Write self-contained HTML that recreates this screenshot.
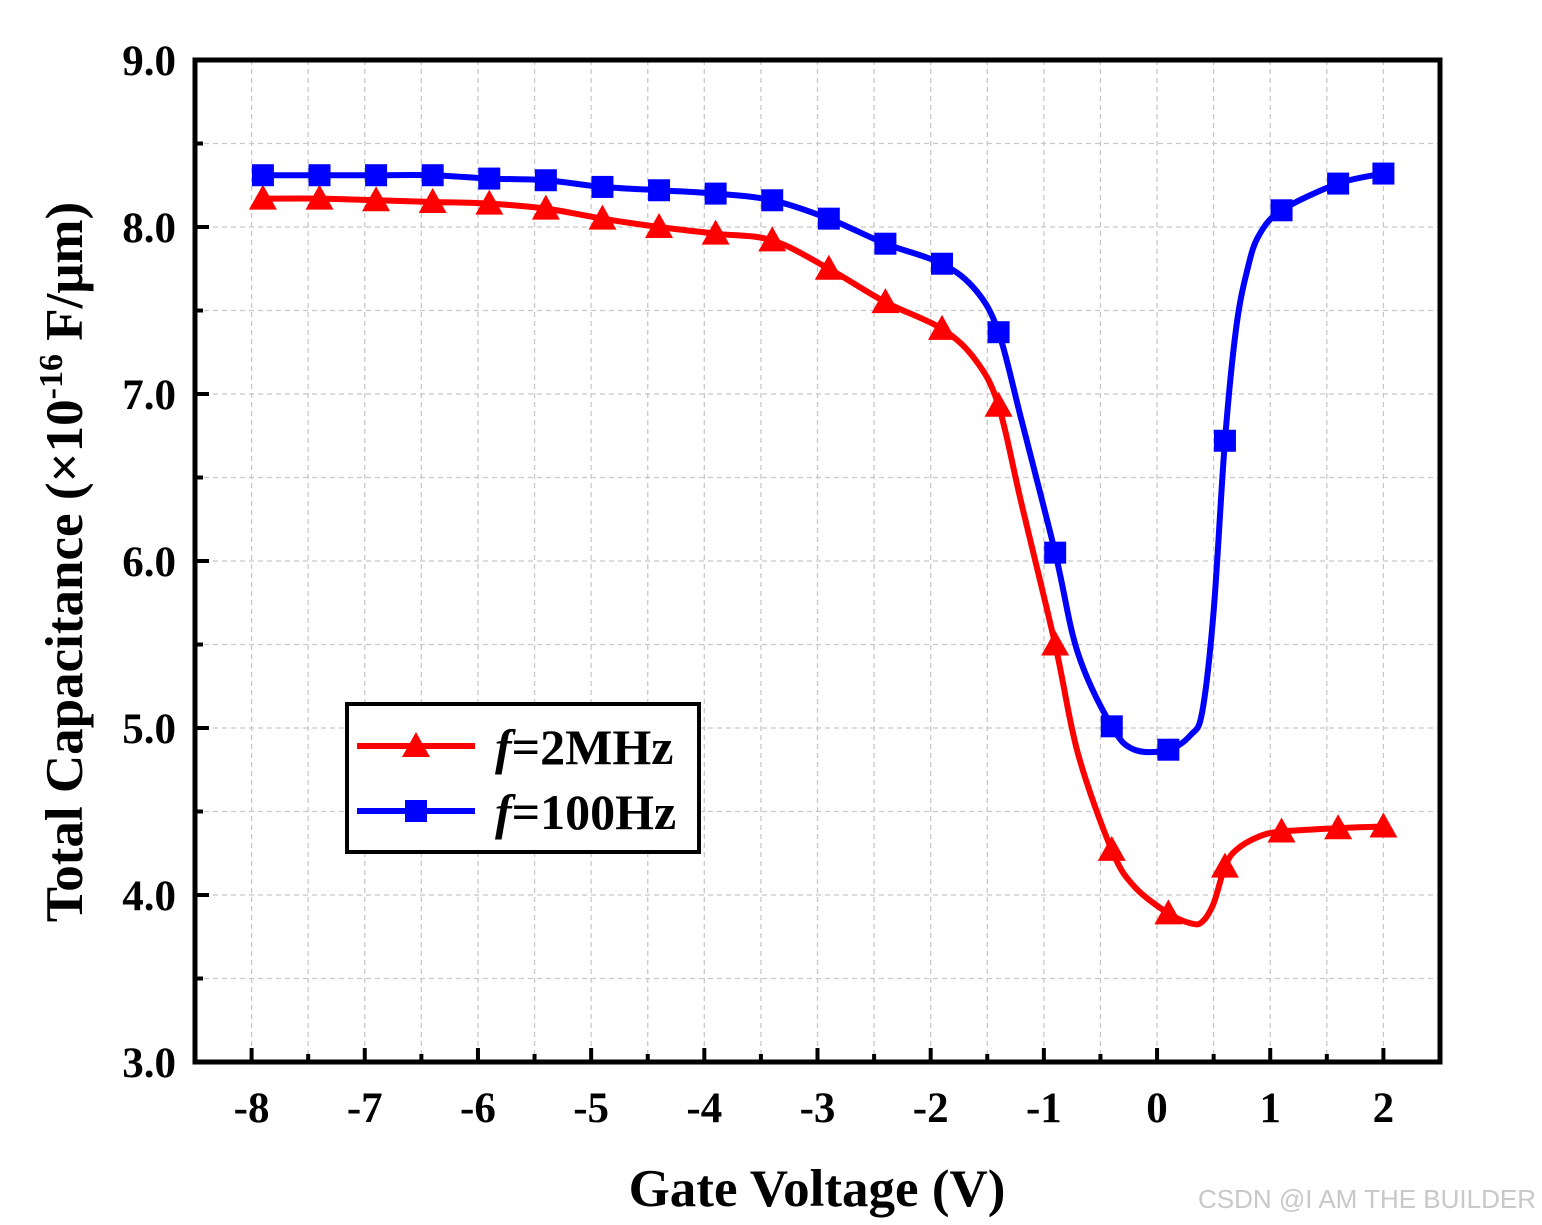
<!DOCTYPE html>
<html><head><meta charset="utf-8"><style>
body{margin:0;background:#fff;}
svg{display:block;font-family:"Liberation Serif",serif;}
</style></head><body>
<svg id="chart" width="1542" height="1225" xmlns="http://www.w3.org/2000/svg"></svg>
<script>
const markerX = [-7.9,-7.4,-6.9,-6.4,-5.9,-5.4,-4.9,-4.4,-3.9,-3.4,-2.9,-2.4,-1.9,-1.4,-0.9,-0.4,0.1,0.6,1.1,1.6,2.0];
const blueMarkers = [8.31,8.31,8.31,8.31,8.29,8.28,8.24,8.22,8.20,8.16,8.05,7.90,7.78,7.37,6.05,5.01,4.87,6.72,8.10,8.26,8.32];
const redMarkers = [8.17,8.17,8.16,8.15,8.14,8.11,8.05,8.00,7.96,7.92,7.75,7.55,7.39,6.93,5.50,4.27,3.89,4.17,4.38,4.40,4.41];
const blueLineX = [-7.9,-7.4,-6.9,-6.4,-5.9,-5.4,-4.9,-4.4,-3.9,-3.4,-2.9,-2.4,-1.9,-1.6,-1.4,-1.2,-0.9,-0.7,-0.4,-0.2,0.1,0.3,0.4,0.5,0.6,0.7,0.8,0.9,1.1,1.6,2.0];
const blueLineY = [8.31,8.31,8.31,8.31,8.29,8.28,8.24,8.22,8.20,8.16,8.05,7.90,7.78,7.62,7.37,6.85,6.05,5.45,5.01,4.87,4.87,4.96,5.10,5.70,6.72,7.40,7.75,7.95,8.10,8.26,8.32];
const redLineX = [-7.9,-7.4,-6.9,-6.4,-5.9,-5.4,-4.9,-4.4,-3.9,-3.4,-2.9,-2.4,-1.9,-1.6,-1.4,-1.2,-0.9,-0.7,-0.4,-0.2,0.1,0.3,0.4,0.5,0.6,0.7,0.9,1.1,1.6,2.0];
const redLineY = [8.17,8.17,8.16,8.15,8.14,8.11,8.05,8.00,7.96,7.92,7.75,7.55,7.39,7.20,6.93,6.35,5.50,4.85,4.27,4.05,3.89,3.83,3.84,3.95,4.17,4.27,4.35,4.38,4.40,4.41];
const xTicks = [-8,-7,-6,-5,-4,-3,-2,-1,0,1,2];
const yTicks = [3.0,4.0,5.0,6.0,7.0,8.0,9.0];

const L=195,R=1440,T=60,B=1062, X0=-8.5,X1=2.5,Y0=3,Y1=9;
const sx=v=>L+(v-X0)/(X1-X0)*(R-L);
const sy=v=>B-(v-Y0)/(Y1-Y0)*(B-T);
const svg=document.getElementById('chart');
const NS='http://www.w3.org/2000/svg';
function mk(tag,attrs,parent){const e=document.createElementNS(NS,tag);for(const k in attrs)e.setAttribute(k,attrs[k]);(parent||svg).appendChild(e);return e;}

const grid=mk('g',{});


for(let v=-8;v<=2.01;v+=0.5){mk('line',{x1:sx(v),x2:sx(v),y1:T,y2:B,stroke:'#c8c8c8','stroke-width':1.3,'stroke-dasharray':'5,4'},grid);}
for(let v=3.5;v<9;v+=0.5){mk('line',{x1:L,x2:R,y1:sy(v),y2:sy(v),stroke:'#c8c8c8','stroke-width':1.3,'stroke-dasharray':'5,4'},grid);}

for(let v=-8;v<=2.01;v+=0.5){const maj=Math.abs(v-Math.round(v))<0.01;mk('line',{x1:sx(v),x2:sx(v),y1:B,y2:B-(maj?14:8),stroke:'#000','stroke-width':4});}
for(let v=3;v<=9.01;v+=0.5){const maj=Math.abs(v-Math.round(v))<0.01;mk('line',{x1:L,x2:L+(maj?14:8),y1:sy(v),y2:sy(v),stroke:'#000','stroke-width':4});}
xTicks.forEach(v=>{const t=mk('text',{x:sx(v),y:1122,'text-anchor':'middle','font-size':43,'font-weight':'bold'});t.textContent=String(v);
});
yTicks.forEach(v=>{const t=mk('text',{x:176,y:sy(v)+15,'text-anchor':'end','font-size':43,'font-weight':'bold'});t.textContent=v.toFixed(1);
});

function path(xs,ys){const p=xs.map((x,i)=>[sx(x),sy(ys[i])]);let d=`M${p[0][0]},${p[0][1]}`;
for(let i=0;i<p.length-1;i++){const p0=p[i-1]||p[i],p1=p[i],p2=p[i+1],p3=p[i+2]||p2;
const c1=[p1[0]+(p2[0]-p0[0])/6,p1[1]+(p2[1]-p0[1])/6],c2=[p2[0]-(p3[0]-p1[0])/6,p2[1]-(p3[1]-p1[1])/6];
d+=` C${c1[0]},${c1[1]} ${c2[0]},${c2[1]} ${p2[0]},${p2[1]}`;}return d;}
const rl=mk('path',{d:path(redLineX,redLineY),fill:'none',stroke:'#ff0000','stroke-width':6});

const bl=mk('path',{d:path(blueLineX,blueLineY),fill:'none',stroke:'#0000ff','stroke-width':6});

markerX.forEach((x,i)=>{const cx=sx(x),cy=sy(redMarkers[i]);
const m=mk('polygon',{points:`${cx},${cy-14} ${cx-14},${cy+11} ${cx+14},${cy+11}`,fill:'#ff0000'});
});
markerX.forEach((x,i)=>{const cx=sx(x),cy=sy(blueMarkers[i]);
const m=mk('rect',{x:cx-11,y:cy-11,width:22,height:22,fill:'#0000ff'});
});

const fr=mk('rect',{x:L,y:T,width:R-L,height:B-T,fill:'none',stroke:'#000','stroke-width':5});

</script>
<svg style="position:absolute;left:0;top:0" width="1542" height="1225" xmlns="http://www.w3.org/2000/svg" font-family="Liberation Serif, serif">
<g>
<rect x="347" y="704" width="352" height="148" fill="#fff" stroke="#000" stroke-width="4"/>
<line x1="357" y1="746" x2="475" y2="746" stroke="#ff0000" stroke-width="6"/>
<polygon points="416,732 402,757 430,757" fill="#ff0000"/>
<text x="495" y="764" font-size="50" font-weight="bold"><tspan font-style="italic">f</tspan>=2MHz</text>
<line x1="357" y1="811" x2="475" y2="811" stroke="#0000ff" stroke-width="6"/>
<rect x="405" y="800" width="22" height="22" fill="#0000ff"/>
<text x="495" y="829" font-size="50" font-weight="bold"><tspan font-style="italic">f</tspan>=100Hz</text>
</g>
<text x="817" y="1206" text-anchor="middle" font-size="53" font-weight="bold">Gate Voltage (V)</text>
<text transform="translate(82,562) rotate(-90)" text-anchor="middle" font-size="53" font-weight="bold">Total Capacitance (×10<tspan dy="-20" font-size="34">-16</tspan><tspan dy="20"> F/μm)</tspan></text>
<text x="1536" y="1208" text-anchor="end" font-family="Liberation Sans, sans-serif" font-size="26" fill="#c8c8c8">CSDN @I AM THE BUILDER</text>
</svg>
</body></html>
